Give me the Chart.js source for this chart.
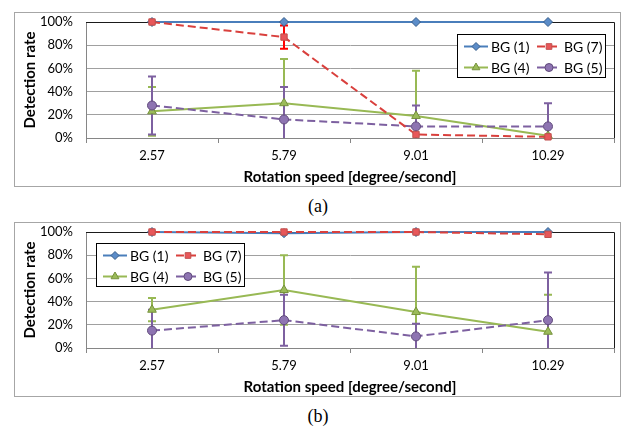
<!DOCTYPE html>
<html lang="en">
<head>
<meta charset="UTF-8">
<title>Detection rate vs rotation speed</title>
<script src="https://cdn.jsdelivr.net/npm/chart.js"></script>
<style>
  body { margin: 0; background: #fff; width: 632px; height: 427px; position: relative; overflow: hidden; }
  .box { position: absolute; left: 14px; width: 605px; height: 173px; border: 1px solid #a6a6a6; }
  #boxA { top: 12px; }
  #boxB { top: 222px; }
  .cap { position: absolute; left: 0; width: 636px; text-align: center; font-family: "Liberation Serif", serif; font-size: 18px; color: #000; }
</style>
</head>
<body>
<div class="box" id="boxA"><canvas id="chartA" width="605" height="173"></canvas></div>
<div class="cap" style="top:196px">(a)</div>
<div class="box" id="boxB"><canvas id="chartB" width="605" height="173"></canvas></div>
<div class="cap" style="top:406px">(b)</div>

<script>
// rotation speeds (degree/second)
const categories = ['2.57', '5.79', '9.01', '10.29'];
const seriesNames = ['BG (1)', 'BG (7)', 'BG (4)', 'BG (5)'];
const yTicks = [0, 20, 40, 60, 80, 100];

// (a) detection rate in %
const bg1A = [100, 100, 100, 100];
const bg7A = [100, 87, 3, 1];
const bg4A = [23, 30, 19, 2];
const bg5A = [28, 16, 10, 10];
const err7A = [0, 10, 0, 0];
const err4A = [21, 38, 39, 0];
const err5A = [25, 28, 18, 20];

// (b) detection rate in %
const bg1B = [100, 99, 100, 100];
const bg7B = [100, 100, 100, 98];
const bg4B = [33, 50, 31, 14];
const bg5B = [15, 24, 10, 24];
const err4B = [10, 30, 39, 32];
const err5B = [18, 22, 11, 41];

const FONT = 'Lato, "Noto Sans", sans-serif';

const styles = [
    { line: '#4a7ebb', fill: '#5b8cc8', border: '#385d8a', point: 'rectRot', radius: 4.5, dash: [], bar: '#4a7ebb', order: 3 },
    { line: '#d9403d', fill: '#e8575a', border: '#c0504d', point: 'rect', radius: 4.5, dash: [8, 4], bar: '#ff0000', order: 0 },
    { line: '#98b954', fill: '#9bbb59', border: '#76923c', point: 'triangle', radius: 5, dash: [], bar: '#98b954', order: 2 },
    { line: '#7d60a0', fill: '#8e74b2', border: '#604a7b', point: 'circle', radius: 4.5, dash: [8, 4], bar: '#7d60a0', order: 1 }
];

function makeDatasets(values, errors) {
    return values.map((v, i) => ({
        label: seriesNames[i],
        data: v,
        errorBars: errors[i],
        borderColor: styles[i].line,
        backgroundColor: styles[i].fill,
        pointBackgroundColor: styles[i].fill,
        pointBorderColor: styles[i].border,
        pointBorderWidth: 1,
        pointStyle: styles[i].point,
        pointRadius: styles[i].radius,
        borderWidth: 2,
        borderDash: styles[i].dash,
        tension: 0,
        clip: false,
        order: styles[i].order
    }));
}

// vertical error bars, clipped to the plot area
const errorBarPlugin = {
    id: 'errorBars',
    beforeDatasetsDraw(chart) {
        const ctx = chart.ctx;
        const area = chart.chartArea;
        const xs = chart.scales.x, ys = chart.scales.y;
        ctx.save();
        chart.data.datasets.forEach((ds, di) => {
            if (!ds.errorBars) return;
            ctx.strokeStyle = styles[di].bar;
            ctx.lineWidth = 2;
            ds.errorBars.forEach((e, i) => {
                if (!e) return;
                const x = Math.round(xs.getPixelForValue(i));
                const v = ds.data[i];
                let top = ys.getPixelForValue(v + e);
                let bot = ys.getPixelForValue(v - e);
                const capTop = top >= area.top - 0.5;
                const capBot = bot <= area.bottom + 0.5;
                top = Math.max(top, area.top);
                bot = Math.min(bot, area.bottom);
                ctx.beginPath();
                ctx.moveTo(x, top); ctx.lineTo(x, bot);
                if (capTop) { ctx.moveTo(x - 4, top); ctx.lineTo(x + 4, top); }
                if (capBot) { ctx.moveTo(x - 4, bot); ctx.lineTo(x + 4, bot); }
                ctx.stroke();
            });
        });
        ctx.restore();
    }
};

// dark top/right edges of the plot area
const framePlugin = {
    id: 'frame',
    beforeDatasetsDraw(chart) {
        const { ctx, chartArea: a } = chart;
        ctx.save();
        ctx.strokeStyle = '#1a1a1a';
        ctx.lineWidth = 1;
        ctx.beginPath();
        ctx.moveTo(a.left, a.top + 0.5); ctx.lineTo(a.right + 0.5, a.top + 0.5);
        ctx.lineTo(a.right + 0.5, a.bottom);
        ctx.stroke();
        ctx.restore();
    }
};

// Excel-style boxed legend inside the plot
const boxLegend = {
    id: 'boxLegend',
    afterDraw(chart, args, opts) {
        const ctx = chart.ctx;
        const a = chart.chartArea;
        const w = 148, h = 43;
        const x0 = opts.side === 'right' ? a.right - opts.dx - w : a.left + opts.dx;
        const y0 = a.top + opts.dy;
        ctx.save();
        ctx.fillStyle = '#fff';
        ctx.fillRect(x0, y0, w, h);
        ctx.strokeStyle = '#000';
        ctx.lineWidth = 1;
        ctx.strokeRect(x0 + 0.5, y0 + 0.5, w, h);
        ctx.font = '14px ' + FONT;
        ctx.textBaseline = 'middle';
        chart.data.datasets.forEach((ds, i) => {
            const s = styles[i];
            const lx = x0 + (i % 2 ? 80 : 7);
            const ly = y0 + (i < 2 ? 12.5 : 33.5);
            ctx.strokeStyle = s.line;
            ctx.lineWidth = 2;
            ctx.setLineDash(s.dash);
            ctx.beginPath();
            ctx.moveTo(lx, ly); ctx.lineTo(lx + 24, ly);
            ctx.stroke();
            ctx.setLineDash([]);
            ctx.fillStyle = s.fill;
            ctx.strokeStyle = s.border;
            ctx.lineWidth = 1;
            Chart.helpers.drawPoint(ctx, { pointStyle: s.point, radius: s.radius - 0.5, rotation: 0, borderWidth: 1 }, lx + 12, ly);
            ctx.fillStyle = '#000';
            ctx.fillText(ds.label, lx + 27, ly + 1);
        });
        ctx.restore();
    }
};

function buildChart(id, values, errors, legendOpts) {
    return new Chart(document.getElementById(id), {
        type: 'line',
        data: { labels: categories, datasets: makeDatasets(values, errors) },
        plugins: [errorBarPlugin, framePlugin, boxLegend],
        options: {
            responsive: false,
            animation: false,
            layout: { padding: { top: 9, right: 5, left: 0, bottom: 0 } },
            plugins: {
                legend: { display: false },
                tooltip: { enabled: false },
                boxLegend: legendOpts
            },
            scales: {
                x: {
                    offset: true,
                    grid: { offset: true, drawOnChartArea: false, drawTicks: true, tickLength: 5, color: '#868686' },
                    border: { color: '#868686', width: 1 },
                    ticks: { color: '#000', font: { family: FONT, size: 13 }, padding: 5, maxRotation: 0 },
                    title: { display: true, text: 'Rotation speed [degree/second]', color: '#000', font: { family: FONT, size: 15, weight: 'bold' }, padding: { top: 0, bottom: 0 } },
                    afterFit(s) { s.height = 48; s.paddingLeft = 0; s.paddingRight = 0; }
                },
                y: {
                    min: 0,
                    max: 100,
                    afterBuildTicks(s) { s.ticks = yTicks.map(v => ({ value: v })); },
                    grid: { color: '#a0a0a0', drawTicks: false },
                    border: { color: '#868686', width: 1 },
                    ticks: { color: '#000', font: { family: FONT, size: 13 }, padding: 13, callback: v => v + '%' },
                    title: { display: true, text: 'Detection rate', color: '#000', font: { family: FONT, size: 15, weight: 'bold' }, padding: { top: 6, bottom: 0 } },
                    afterFit(s) { s.width = 71; s.paddingTop = 0; s.paddingBottom = 0; }
                }
            }
        }
    });
}

buildChart('chartA', [bg1A, bg7A, bg4A, bg5A], [null, err7A, err4A, err5A], { side: 'right', dx: 9, dy: 12 });
buildChart('chartB', [bg1B, bg7B, bg4B, bg5B], [null, null, err4B, err5B], { side: 'left', dx: 10, dy: 11 });
</script>
</body>
</html>
